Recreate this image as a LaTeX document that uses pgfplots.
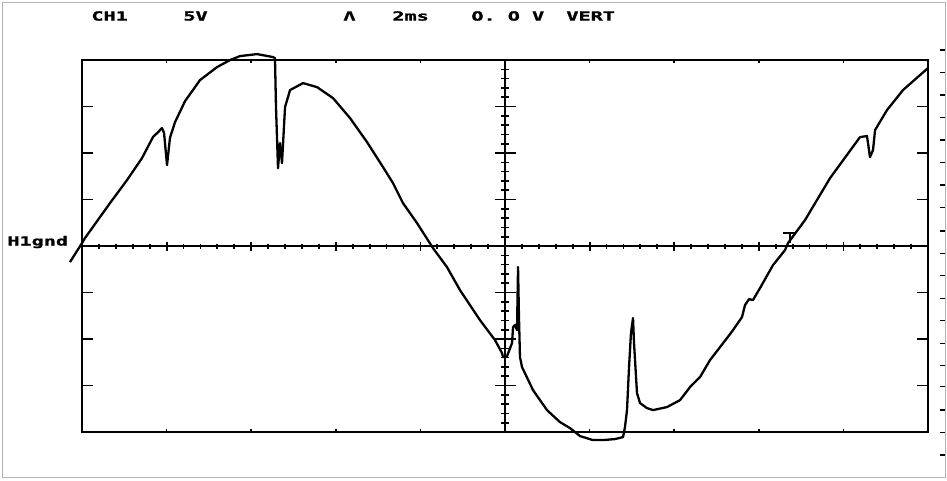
\documentclass[border=0pt]{standalone}
\usepackage{pgfplots}
\pgfplotsset{compat=1.18}
\usepackage{fontspec}
\newfontfamily\osc{DejaVu Sans Mono Bold}[FakeBold=1.2]
\newcommand\lab[1]{\scalebox{1.6}[1]{\osc\fontsize{6.3}{7}\selectfont #1}}
\pgfplotstableread{
X Y
-5.142 -0.344
-5.000 0.065
-4.965 0.172
-4.669 0.925
-4.468 1.419
-4.291 1.892
-4.161 2.344
-4.113 2.430
-4.054 2.538
-4.030 2.430
-3.995 1.742
-3.960 2.330
-3.900 2.667
-3.782 3.118
-3.605 3.570
-3.404 3.849
-3.251 4.000
-3.132 4.086
-2.931 4.129
-2.742 4.065
-2.719 4.043
-2.707 2.989
-2.683 1.677
-2.660 2.215
-2.636 1.785
-2.600 2.989
-2.541 3.355
-2.388 3.505
-2.222 3.419
-2.033 3.183
-1.832 2.753
-1.631 2.237
-1.442 1.699
-1.324 1.355
-1.206 0.925
-1.040 0.495
-0.851 -0.043
-0.686 -0.452
-0.532 -0.946
-0.296 -1.591
-0.118 -2.022
-0.035 -2.301
-0.024 -2.387
0.024 -2.366
0.083 -2.086
0.095 -1.742
0.118 -1.699
0.142 -1.806
0.154 -0.452
0.165 -1.527
0.177 -2.387
0.201 -2.602
0.331 -3.097
0.496 -3.527
0.650 -3.785
0.768 -3.914
0.887 -4.086
1.040 -4.172
1.158 -4.172
1.300 -4.150
1.395 -4.108
1.418 -3.892
1.442 -3.527
1.466 -2.602
1.489 -1.871
1.513 -1.548
1.525 -2.086
1.560 -3.161
1.596 -3.376
1.678 -3.484
1.749 -3.527
1.915 -3.462
2.069 -3.312
2.187 -3.032
2.305 -2.817
2.423 -2.452
2.624 -1.978
2.695 -1.806
2.801 -1.527
2.837 -1.269
2.884 -1.140
2.931 -1.161
3.014 -0.903
3.168 -0.409
3.310 -0.086
3.345 0.065
3.546 0.559
3.842 1.462
4.196 2.344
4.279 2.366
4.314 1.914
4.350 2.065
4.374 2.495
4.515 2.925
4.704 3.355
4.905 3.677
5.000 3.828
}\trace
\begin{document}
\begin{tikzpicture}
\pgfplotsset{
  oscaxis/.style={scale only axis, width=423pt, height=186pt,
    xmin=-5, xmax=5, ymin=-4, ymax=4, enlargelimits=false,
    xticklabels={}, yticklabels={}, at={(0,0)}, anchor=south west},
}
% outer frame in pixel coordinates
\begin{axis}[scale only axis, width=471pt, height=237pt,
  at={(-39.5pt,-22.5pt)}, anchor=south west,
  xmin=3, xmax=945, ymin=3, ymax=477, y dir=reverse, enlargelimits=false,
  axis line style={gray!60, line width=0.5pt},
  xtick=\empty, ytick={50,72.3,95,117.3,140,162.3,185,207.7,231,253.3,275.7,298.3,320.7,343.3,365.7,386.7,410,432.3,455},
  ytick pos=right, tick align=inside, major tick length=2.5pt,
  yticklabels={}, tick style={black, line width=0.6pt}, clip=false]
\node[anchor=west, inner sep=0] at (axis cs:91,16) {\lab{CH1}};
\node[anchor=west, inner sep=0] at (axis cs:183,16) {\lab{5V}};
\node[anchor=west, inner sep=0] at (axis cs:343,16) {\lab{Λ}};
\node[anchor=west, inner sep=0] at (axis cs:392,16) {\lab{2ms}};
\node[anchor=west, inner sep=0] at (axis cs:471,16) {\lab{O. O V}};
\node[anchor=west, inner sep=0] at (axis cs:566,16) {\lab{VERT}};
\node[anchor=west, inner sep=0] at (axis cs:7,242) {\lab{H1gnd}};
\coordinate (bb1) at (axis cs:0,480);
\coordinate (bb2) at (axis cs:947,0);
\end{axis}
% box with small top/bottom ticks
\begin{axis}[oscaxis, axis line style={line width=1pt},
  xtick={-4,...,4}, ytick=\empty, tick align=inside,
  major tick length=1.5pt, tick style={black, line width=0.8pt}]
\end{axis}
% left/right ticks
\begin{axis}[oscaxis, axis line style={draw=none},
  xtick=\empty, ytick={-3,...,3}, tick align=inside,
  major tick length=5.5pt, tick style={black, line width=0.8pt}]
\end{axis}
% horizontal center line
\begin{axis}[oscaxis, axis x line=middle, axis y line=none,
  axis line style={-, line width=1pt},
  every inner x axis line/.append style={-},
  xtick={-5,...,5}, minor x tick num=4, ytick=\empty, tick align=center,
  major tick length=4.5pt, minor tick length=2.5pt,
  tick style={black, line width=0.9pt}]
\end{axis}
% vertical center line
\begin{axis}[oscaxis, axis y line=middle, axis x line=none,
  axis line style={-, line width=1pt},
  every inner y axis line/.append style={-},
  ytick={-4,...,4}, minor y tick num=4, xtick=\empty, tick align=center,
  major tick length=10.5pt, minor tick length=4pt,
  tick style={black, line width=0.8pt}]
\end{axis}
% trace
\begin{axis}[oscaxis, hide axis, clip=false]
\addplot[black, line width=1.15pt, line join=round, mark=none] table[x=X, y=Y] {\trace};
\addplot[black, line width=0.7pt, mark=none] coordinates {(3.286,0.28) (3.428,0.28)};
\addplot[black, line width=0.7pt, mark=none] coordinates {(3.369,0.28) (3.369,0.065)};
\end{axis}
\pgfresetboundingbox
\useasboundingbox (bb1) rectangle (bb2);
\end{tikzpicture}
\end{document}
